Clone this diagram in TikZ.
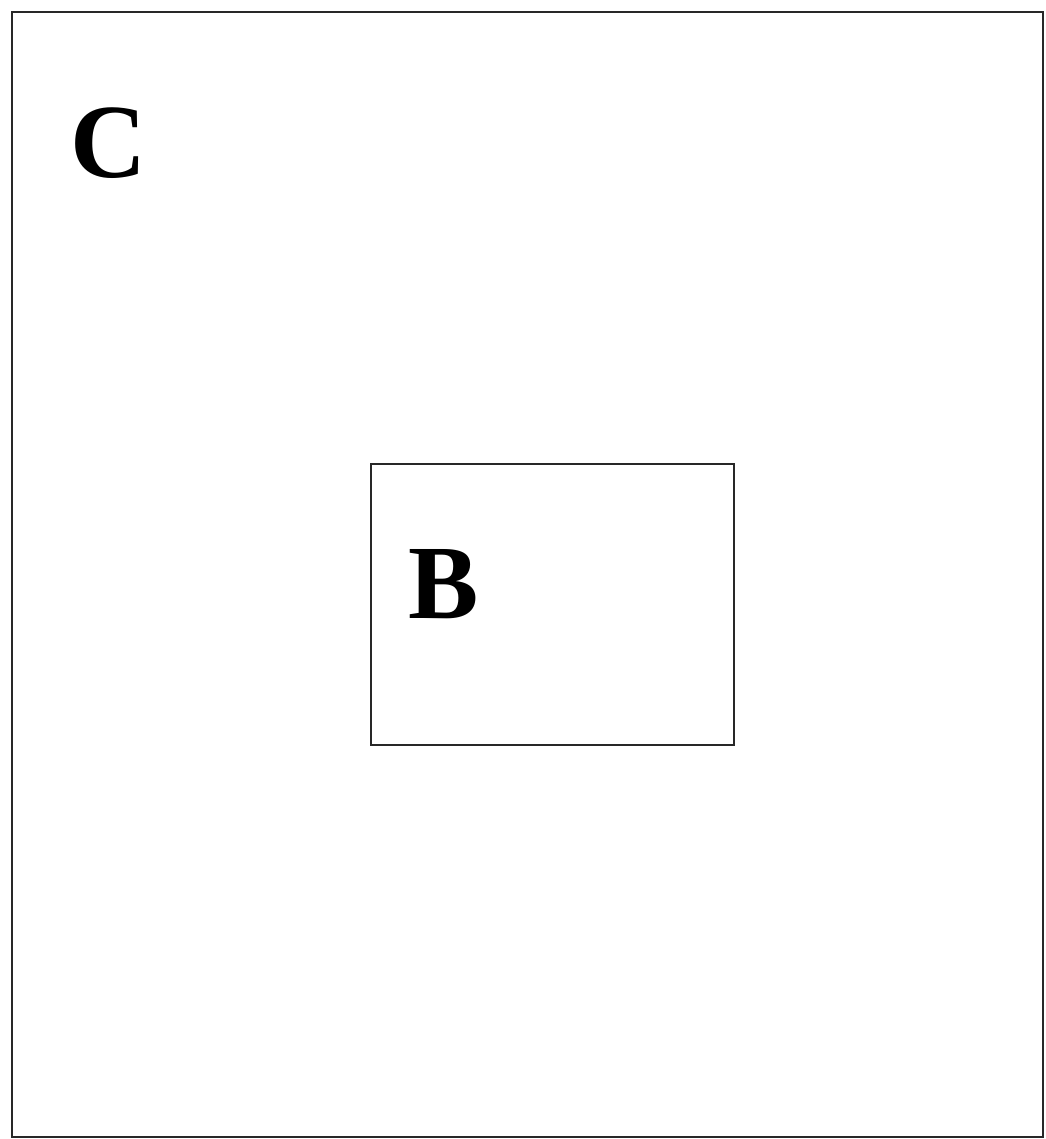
\documentclass[tikz,border=0pt]{standalone}
\usepackage{fontspec}
\setmainfont{Liberation Serif}
\usepackage{tikz}
\usetikzlibrary{positioning}
\definecolor{SetRand}{RGB}{40,40,40}

\begin{document}
\begin{tikzpicture}[x=0.02cm, y=-0.02cm]
    \useasboundingbox (0,0) rectangle (1045,1139);
    \node[shape=rectangle, draw=SetRand, line width=1.4pt, inner sep=0pt, minimum width=20.62cm, minimum height=22.5cm] (C) at (527.5, 574.5) {};
    \node[shape=rectangle, draw=SetRand, line width=1.4pt, inner sep=0pt, minimum width=7.26cm, minimum height=5.62cm] (B) at (552.5, 604.5) {};
    \node[font=\fontsize{60}{60}\selectfont\bfseries, inner sep=0pt] (labelC) at (109, 143) {C};
    \node[font=\fontsize{60}{60}\selectfont\bfseries, inner sep=0pt] (labelB) at (444, 584) {B};
\end{tikzpicture}
\end{document}
